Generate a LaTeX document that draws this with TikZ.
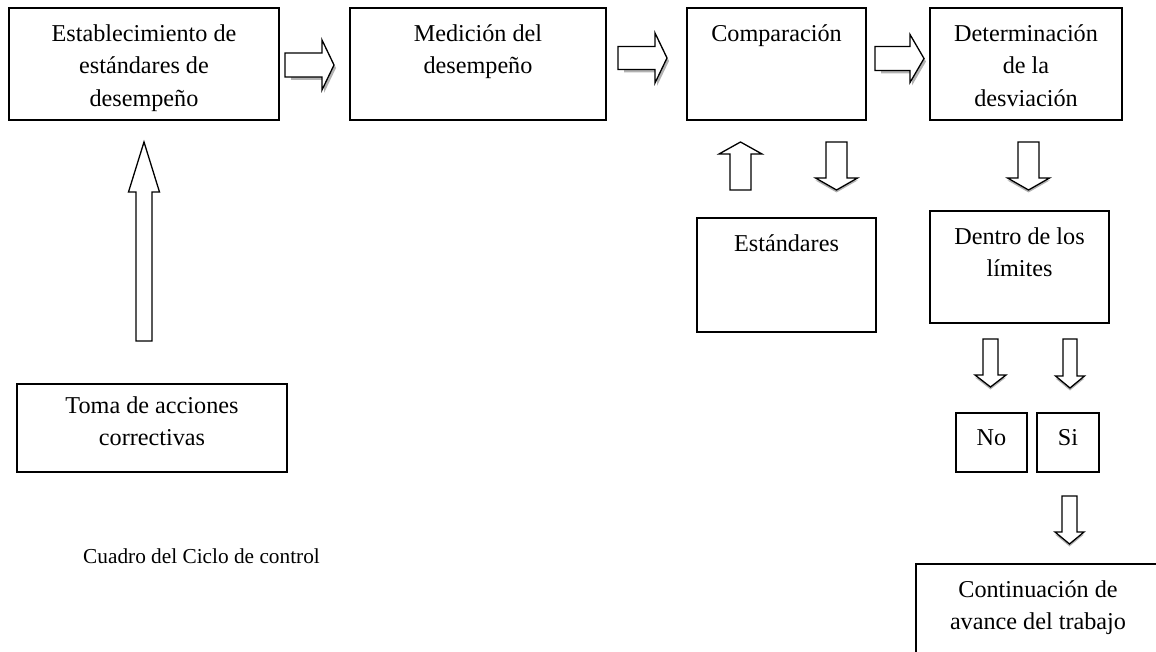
\documentclass[tikz,border=0pt]{standalone}
\usepackage{fontspec}
\setmainfont{Liberation Serif}
\begin{document}
\begin{tikzpicture}[x=1pt,y=-1pt,
  box/.style={draw=black, line width=1.3pt, fill=white, inner sep=0pt, rectangle},
  txt/.style={align=center, inner sep=0pt, font=\fontsize{24.2}{32.5}\selectfont},
  captxt/.style={inner sep=0pt, font=\fontsize{21.3}{26}\selectfont},
  blk/.style={draw=black, line width=1.3pt, fill=white, line join=miter},
  shd/.style={fill=black!30}]
\useasboundingbox (0,0) rectangle (1156,652);
\clip (0,0) rectangle (1156,652);

% right block arrow: x0, xh, x1, yc, shaft half, head half
\newcommand{\rightblock}[6]{%
  \fill[shd, shift={(2,3)}] (#1+4,{#4-#5}) -- (#2,{#4-#5}) -- (#2,{#4-#6}) -- (#3,#4) -- (#2,{#4+#6}) -- (#2,{#4+#5}) -- (#1+4,{#4+#5}) -- cycle;
  \draw[blk] (#1,{#4-#5}) -- (#2,{#4-#5}) -- (#2,{#4-#6}) -- (#3,#4) -- (#2,{#4+#6}) -- (#2,{#4+#5}) -- (#1,{#4+#5}) -- cycle;}
% down block arrow: xc, shaft half, head half, ytop, yhead, ytip
\newcommand{\downblock}[6]{%
  \fill[shd, shift={(0,2.5)}] ({#1-#2},#5) -- ({#1-#3},#5) -- (#1,#6) -- ({#1+#3},#5) -- ({#1+#2},#5) -- cycle;
  \draw[blk] ({#1-#2},#4) -- ({#1+#2},#4) -- ({#1+#2},#5) -- ({#1+#3},#5) -- (#1,#6) -- ({#1-#3},#5) -- ({#1-#2},#5) -- cycle;}
% up block arrow: xc, shaft half, head half, ytip, yhead, ybottom
\newcommand{\upblock}[6]{%
  \draw[blk] (#1,#4) -- ({#1+#3},#5) -- ({#1+#2},#5) -- ({#1+#2},#6) -- ({#1-#2},#6) -- ({#1-#2},#5) -- ({#1-#3},#5) -- cycle;}

% boxes
\node[box, minimum width=270, minimum height=112] (b1) at (144,64) {};
\node[box, minimum width=256, minimum height=112] (b2) at (478,64) {};
\node[box, minimum width=179, minimum height=112] (b3) at (776.5,64) {};
\node[box, minimum width=192, minimum height=112] (b4) at (1026,64) {};
\node[box, minimum width=179, minimum height=114] (est) at (786.5,275) {};
\node[box, minimum width=179, minimum height=112] (dentro) at (1019.5,267) {};
\node[box, minimum width=71, minimum height=59] (no) at (991.5,442.5) {};
\node[box, minimum width=62, minimum height=59] (si) at (1068,442.5) {};
\node[box, minimum width=270, minimum height=88] (toma) at (152,428) {};
\node[box, minimum width=244, minimum height=100] (cont) at (1038,614) {};

% texts
\node[txt, anchor=north] (t1) at ([yshift=-17pt]b1.north) {Establecimiento de\\est\'andares de\\desempe\~no};
\node[txt, anchor=north] (t2) at ([yshift=-17pt]b2.north) {Medici\'on del\\desempe\~no};
\node[txt, anchor=north] (t3) at ([yshift=-17pt]b3.north) {Comparaci\'on};
\node[txt, anchor=north] (t4) at ([yshift=-17pt]b4.north) {Determinaci\'on\\de la\\desviaci\'on};
\node[txt, anchor=north] (test) at ([yshift=-17pt]est.north) {Est\'andares};
\node[txt, anchor=north] (tdentro) at ([yshift=-17pt]dentro.north) {Dentro de los\\l\'imites};
\node[txt, anchor=north] (tno) at ([yshift=-17pt]no.north) {No};
\node[txt, anchor=north] (tsi) at ([yshift=-16.5pt]si.north) {Si};
\node[txt, anchor=north] (ttoma) at ([yshift=-13pt]toma.north) {Toma de acciones\\correctivas};
\node[txt, anchor=north] (tcont) at ([yshift=-17pt]cont.north) {Continuaci\'on de\\avance del trabajo};
\node[captxt, anchor=base west] (caption) at (83,563) {Cuadro del Ciclo de control};

% block arrows
\rightblock{285}{322}{334}{65}{12}{25}
\rightblock{618}{655}{667}{58}{11.5}{25}
\rightblock{875}{910}{924}{58.5}{12}{24}
\upblock{740.5}{10.5}{21.5}{142}{154}{190}
\downblock{836.5}{10.5}{21}{142}{178}{190}
\downblock{1028.5}{10.5}{21}{142}{178}{190}
\downblock{990.5}{7.5}{15.5}{339}{375}{387}
\downblock{1070}{7}{14.5}{339}{376}{388}
\downblock{1069.5}{7.5}{14.5}{496}{532}{544}
\upblock{144}{8}{15.5}{142}{192}{341}
\end{tikzpicture}
\end{document}
